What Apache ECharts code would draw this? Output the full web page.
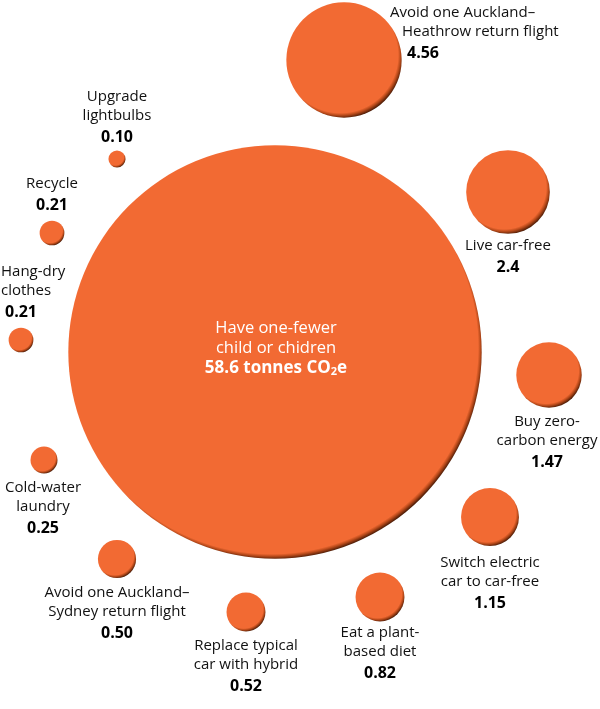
<!DOCTYPE html>
<html><head><meta charset="utf-8">
<script src="https://cdn.jsdelivr.net/npm/echarts@6/dist/echarts.min.js"></script>
<style>html,body{margin:0;padding:0;background:#fff}#c{width:600px;height:709px}</style>
</head><body><div id="c"></div>
<script>
// ---- data ----
const actions = [
  ['Have one-fewer', 'child or chidren'],
  ['Avoid one Auckland–', 'Heathrow return flight'],
  ['Live car-free'],
  ['Buy zero-', 'carbon energy'],
  ['Switch electric', 'car to car-free'],
  ['Eat a plant-', 'based diet'],
  ['Replace typical', 'car with hybrid'],
  ['Avoid one Auckland–', 'Sydney return flight'],
  ['Cold-water', 'laundry'],
  ['Hang-dry', 'clothes'],
  ['Recycle'],
  ['Upgrade', 'lightbulbs']
];
const savings = [58.6, 4.56, 2.4, 1.47, 1.15, 0.82, 0.52, 0.50, 0.25, 0.21, 0.21, 0.10];
const savingLabels = ['58.6', '4.56', '2.4', '1.47', '1.15', '0.82', '0.52', '0.50', '0.25', '0.21', '0.21', '0.10'];
const bubbleX = [275, 344, 508, 549, 490, 380, 246, 117, 44, 21, 52, 117];
const bubbleY = [352, 60, 192, 375, 517, 597, 612, 559, 460, 340, 233, 159];

// ---- label placement (style, not data): [dx, dyTop, align, line2PadLeft, numPadLeft]
const labelPlace = [
  [1, -34, 'center', 0, 0],
  [46, -56.5, 'left', 12, 17],
  [0, 44.5, 'center', 0, 0],
  [-2, 37.5, 'center', 0, 0],
  [0, 36.5, 'center', 0, 0],
  [0, 26.5, 'center', 0, 0],
  [0, 24.5, 'center', 0, 0],
  [0, 24.5, 'center', 0, 0],
  [-1, 18.5, 'center', 0, 0],
  [-20, -77.5, 'left', 0, 4],
  [0, -58.5, 'center', 0, 0],
  [0, -71.5, 'center', 0, 0]
];

const SCALE = 54; // diameter per sqrt(value)
const FONT = '"Open Sans", Lato, sans-serif';

function bubbleFill(R) {
  const d = Math.min(6, 2 + R * 0.1);
  const Rg = R + d;
  const D = 2 * R;
  const t0 = R / Rg;
  return {
    type: 'radial', x: 0.5 - 0.6 * d / D, y: 0.5 - 0.8 * d / D, r: Rg / D,
    colorStops: [
      { offset: 0, color: '#F26A33' },
      { offset: t0, color: '#F26A33' },
      { offset: t0 + (1 - t0) * 0.4, color: '#B84A1A' },
      { offset: 1, color: '#421704' }
    ]
  };
}

const data = savings.map((v, i) => {
  const R = SCALE * Math.sqrt(v) / 2;
  const p = labelPlace[i];
  const pos = [R + p[0], R + p[1]];
  let label;
  if (i === 0) {
    label = {
      show: true, position: pos, align: 'center', verticalAlign: 'top',
      formatter: actions[i].map(s => '{w|' + s + '}').join('\n') + '\n{wb|' + savingLabels[i] + ' tonnes CO}{sub|2}{wb|e}',
      rich: {
        w: { fontFamily: FONT, fontSize: 16.5, color: '#fff', lineHeight: 20 },
        wb: { fontFamily: FONT, fontSize: 17, fontWeight: 'bold', color: '#fff', lineHeight: 20 },
        sub: { fontFamily: FONT, fontSize: 11, fontWeight: 'bold', color: '#fff', lineHeight: 12, padding: [8, 0, 0, 0] }
      }
    };
  } else {
    const rich = {
      t: { fontFamily: FONT, fontSize: 15, color: '#111', lineHeight: 19, align: p[2] },
      t2: { fontFamily: FONT, fontSize: 15, color: '#111', lineHeight: 19, align: p[2], padding: [0, 0, 0, p[3]] },
      n: { fontFamily: FONT, fontSize: 16, fontWeight: 'bold', color: '#000', lineHeight: 24, align: p[2], padding: [0, 0, 0, p[4]] }
    };
    const lines = actions[i].map((s, k) => (k === 0 ? '{t|' : '{t2|') + s + '}');
    label = {
      show: true, position: pos, align: p[2], verticalAlign: 'top',
      formatter: lines.join('\n') + '\n{n|' + savingLabels[i] + '}',
      rich: rich
    };
  }
  return {
    name: actions[i].join(' '),
    value: [bubbleX[i], bubbleY[i], v],
    itemStyle: { color: bubbleFill(R), opacity: 1 },
    label: label
  };
});

const chart = echarts.init(document.getElementById('c'), null, { renderer: 'canvas' });
chart.setOption({
  backgroundColor: '#ffffff',
  animation: false,
  grid: { left: 0, right: 0, top: 0, bottom: 0 },
  xAxis: { type: 'value', min: 0, max: 600, show: false },
  yAxis: { type: 'value', min: 0, max: 709, inverse: true, show: false },
  series: [{
    type: 'scatter',
    symbol: 'circle',
    symbolSize: val => SCALE * Math.sqrt(val[2]),
    itemStyle: { opacity: 1 },
    data: data,
    emphasis: { disabled: true }
  }]
});
</script></body></html>
